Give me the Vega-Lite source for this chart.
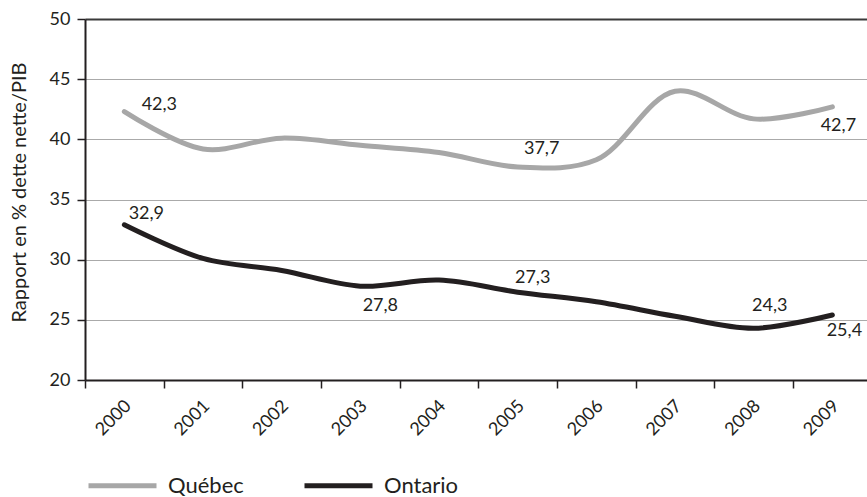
{
  "$schema": "https://vega.github.io/schema/vega-lite/v6.json",
  "width": 782,
  "height": 361,
  "autosize": {"type": "none"},
  "padding": {"left": 85, "top": 19, "right": 0, "bottom": 117},
  "background": "white",
  "config": {
    "font": "Lato",
    "view": {"stroke": null},
    "locale": {
      "number": {"decimal": ",", "thousands": " ", "grouping": [3], "currency": ["", " $"]}
    },
    "axis": {
      "labelColor": "#231f20",
      "labelFontSize": 18,
      "titleColor": "#231f20",
      "titleFontSize": 20,
      "titleFontWeight": "normal",
      "domainColor": "#231f20",
      "domainWidth": 2,
      "tickColor": "#231f20",
      "tickWidth": 1.5,
      "tickSize": 8
    },
    "text": {"font": "Lato", "fontSize": 18, "color": "#231f20"}
  },
  "data": {
    "values": [
      {"annee": 2000, "province": "Québec", "valeur": 42.3},
      {"annee": 2001, "province": "Québec", "valeur": 39.2},
      {"annee": 2002, "province": "Québec", "valeur": 40.1},
      {"annee": 2003, "province": "Québec", "valeur": 39.5},
      {"annee": 2004, "province": "Québec", "valeur": 38.9},
      {"annee": 2005, "province": "Québec", "valeur": 37.7},
      {"annee": 2006, "province": "Québec", "valeur": 38.3},
      {"annee": 2007, "province": "Québec", "valeur": 44.0},
      {"annee": 2008, "province": "Québec", "valeur": 41.7},
      {"annee": 2009, "province": "Québec", "valeur": 42.7},
      {"annee": 2000, "province": "Ontario", "valeur": 32.9},
      {"annee": 2001, "province": "Ontario", "valeur": 30.1},
      {"annee": 2002, "province": "Ontario", "valeur": 29.1},
      {"annee": 2003, "province": "Ontario", "valeur": 27.8},
      {"annee": 2004, "province": "Ontario", "valeur": 28.3},
      {"annee": 2005, "province": "Ontario", "valeur": 27.3},
      {"annee": 2006, "province": "Ontario", "valeur": 26.5},
      {"annee": 2007, "province": "Ontario", "valeur": 25.3},
      {"annee": 2008, "province": "Ontario", "valeur": 24.3},
      {"annee": 2009, "province": "Ontario", "valeur": 25.4}
    ]
  },
  "encoding": {
    "x": {
      "field": "annee",
      "type": "quantitative",
      "scale": {"domain": [1999.5, 2009.44], "nice": false, "zero": false},
      "axis": {
        "title": null,
        "grid": false,
        "values": [1999.5, 2000.5, 2001.5, 2002.5, 2003.5, 2004.5, 2005.5, 2006.5, 2007.5, 2008.5],
        "labelExpr": "'' + (datum.value + 0.5)",
        "labelAngle": -45,
        "labelAlign": "right",
        "labelBaseline": "middle",
        "labelOffset": 43,
        "labelPadding": 15
      }
    },
    "y": {
      "field": "valeur",
      "type": "quantitative",
      "scale": {"domain": [20, 50], "nice": false, "zero": false},
      "axis": {
        "title": "Rapport en % dette nette/PIB",
        "values": [20, 25, 30, 35, 40, 45, 50],
        "grid": true,
        "gridColor": {"condition": {"test": "datum.value === 50", "value": "#3a3a3a"}, "value": "#aaaaaa"},
        "gridWidth": {"condition": {"test": "datum.value === 50", "value": 2}, "value": 1},
        "labelPadding": 7,
        "titlePadding": 20,
        "titleY": 173
      }
    }
  },
  "layer": [
    {
      "mark": {"type": "line", "interpolate": "catmull-rom", "strokeWidth": 5, "strokeCap": "round", "strokeJoin": "round"},
      "encoding": {
        "color": {
          "field": "province",
          "type": "nominal",
          "scale": {"domain": ["Québec", "Ontario"], "range": ["#a7a7a7", "#231f20"]},
          "legend": {
            "title": null,
            "orient": "none",
            "direction": "horizontal",
            "legendX": 1,
            "legendY": 430,
            "padding": 0,
            "symbolType": "stroke",
            "symbolSize": 4624,
            "symbolStrokeWidth": 5,
            "labelFontSize": 22,
            "labelColor": "#231f20",
            "labelOffset": 9,
            "columnPadding": 50
          }
        }
      }
    },
    {
      "transform": [{"filter": "datum.province === 'Québec' && datum.annee === 2000"}],
      "mark": {"type": "text", "dx": 35, "dy": -7},
      "encoding": {"text": {"field": "valeur", "type": "quantitative", "format": ".1f"}}
    },
    {
      "transform": [{"filter": "datum.province === 'Québec' && datum.annee === 2005"}],
      "mark": {"type": "text", "dx": 24, "dy": -18},
      "encoding": {"text": {"field": "valeur", "type": "quantitative", "format": ".1f"}}
    },
    {
      "transform": [{"filter": "datum.province === 'Québec' && datum.annee === 2009"}],
      "mark": {"type": "text", "dx": 6, "dy": 19},
      "encoding": {"text": {"field": "valeur", "type": "quantitative", "format": ".1f"}}
    },
    {
      "transform": [{"filter": "datum.province === 'Ontario' && datum.annee === 2000"}],
      "mark": {"type": "text", "dx": 22, "dy": -11},
      "encoding": {"text": {"field": "valeur", "type": "quantitative", "format": ".1f"}}
    },
    {
      "transform": [{"filter": "datum.province === 'Ontario' && datum.annee === 2003"}],
      "mark": {"type": "text", "dx": 20, "dy": 20},
      "encoding": {"text": {"field": "valeur", "type": "quantitative", "format": ".1f"}}
    },
    {
      "transform": [{"filter": "datum.province === 'Ontario' && datum.annee === 2005"}],
      "mark": {"type": "text", "dx": 15, "dy": -14},
      "encoding": {"text": {"field": "valeur", "type": "quantitative", "format": ".1f"}}
    },
    {
      "transform": [{"filter": "datum.province === 'Ontario' && datum.annee === 2008"}],
      "mark": {"type": "text", "dx": 16, "dy": -22},
      "encoding": {"text": {"field": "valeur", "type": "quantitative", "format": ".1f"}}
    },
    {
      "transform": [{"filter": "datum.province === 'Ontario' && datum.annee === 2009"}],
      "mark": {"type": "text", "dx": 12, "dy": 16},
      "encoding": {"text": {"field": "valeur", "type": "quantitative", "format": ".1f"}}
    }
  ]
}
